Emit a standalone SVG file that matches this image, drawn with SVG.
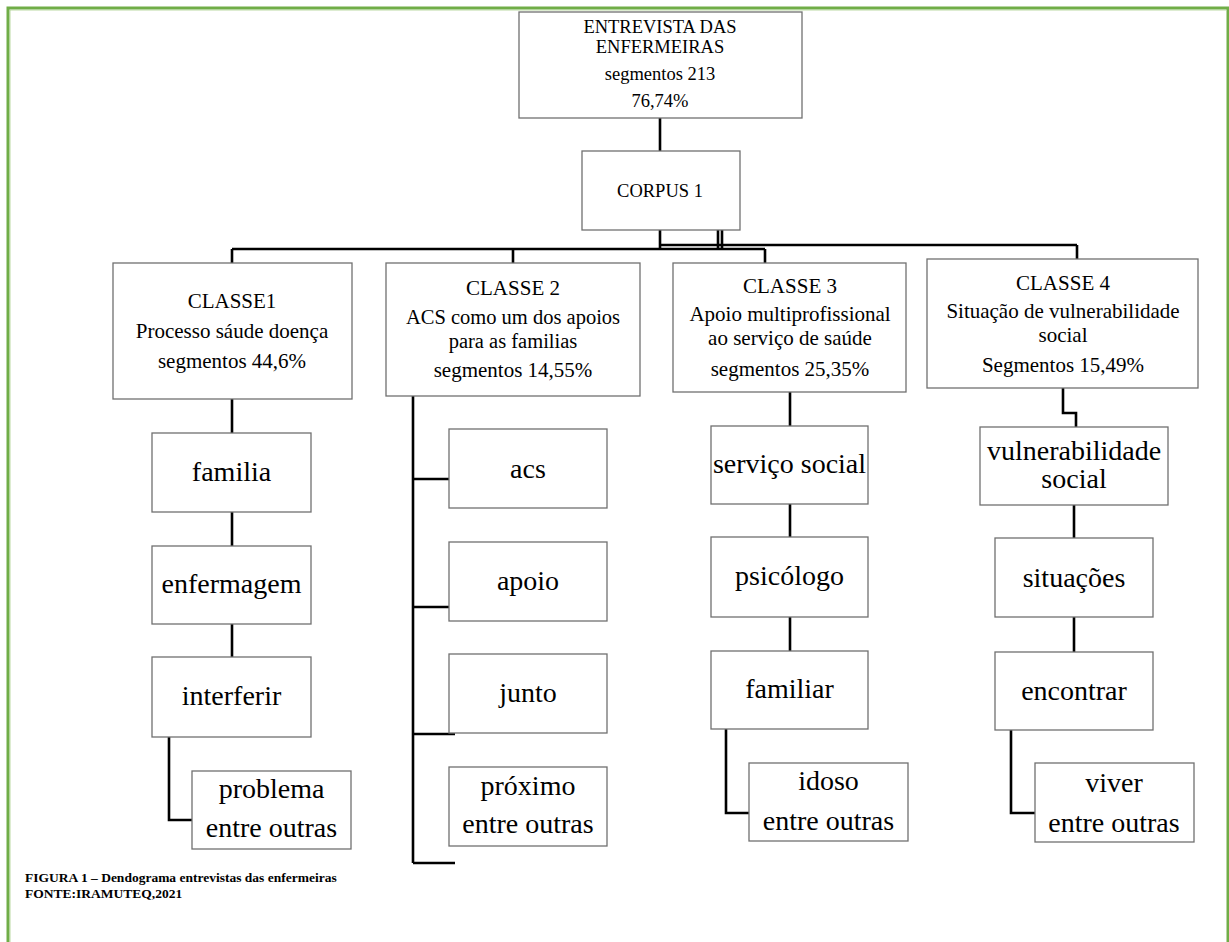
<svg xmlns="http://www.w3.org/2000/svg" width="1229" height="942" viewBox="0 0 1229 942">
<style>
.box{fill:#fff;stroke:#707070;stroke-width:1.3}
.ln{fill:none;stroke:#000;stroke-width:2.6}
text{font-family:"Liberation Serif","Times New Roman",serif;fill:#000;text-anchor:middle}
.t1{font-size:18.5px}
.t2{font-size:21px}
.t2s{font-size:20.5px}
.t3{font-size:28px}
.cap{font-size:13.5px;font-weight:bold;text-anchor:start}
</style>
<rect x="0" y="0" width="1229" height="942" fill="#fff"/>
<path d="M8,942 V8 H1228 V942" fill="none" stroke="#70AD47" stroke-width="3"/>
<path d="M10,942 V10 H1226" fill="none" stroke="#A9D18E" stroke-width="0.8"/>

<g id="connectors">
  <path class="ln" d="M660,118 V151"/>
  <path class="ln" d="M660,230 V249"/>
  <path class="ln" d="M718,230 V249"/>
  <path class="ln" d="M722,230 V249"/>
  <path class="ln" d="M232,249 H765"/>
  <path class="ln" d="M660,245 H1077"/>
  <path class="ln" d="M232,249 V263"/>
  <path class="ln" d="M513,249 V263"/>
  <path class="ln" d="M765,249 V263"/>
  <path class="ln" d="M1077,245 V259"/>
  <path class="ln" d="M232,399 V433"/>
  <path class="ln" d="M232,512 V546"/>
  <path class="ln" d="M232,624 V657"/>
  <path class="ln" d="M169,737 V820 H192"/>
  <path class="ln" d="M413,396 V863"/>
  <path class="ln" d="M413,479 H449"/>
  <path class="ln" d="M413,607 H449"/>
  <path class="ln" d="M413,734 H455"/>
  <path class="ln" d="M413,863 H455"/>
  <path class="ln" d="M790,392 V426"/>
  <path class="ln" d="M790,504 V537"/>
  <path class="ln" d="M790,617 V651"/>
  <path class="ln" d="M726,729 V813 H749"/>
  <path class="ln" d="M1063,388 V413 H1076 V427"/>
  <path class="ln" d="M1074,505 V538"/>
  <path class="ln" d="M1074,617 V652"/>
  <path class="ln" d="M1011,730 V813 H1035"/>
</g>

<g id="entrevista">
  <rect class="box" x="519" y="12" width="283" height="106"/>
  <text class="t1" x="660" y="33">ENTREVISTA DAS</text>
  <text class="t1" x="660" y="53">ENFERMEIRAS</text>
  <text class="t1" x="660" y="80">segmentos 213</text>
  <text class="t1" x="660" y="107">76,74%</text>
</g>
<g id="corpus">
  <rect class="box" x="582" y="151" width="158" height="79"/>
  <text class="t1" x="660" y="197">CORPUS 1</text>
</g>

<g id="classe1">
  <rect class="box" x="113" y="263" width="239" height="136"/>
  <text class="t2" x="232" y="308">CLASSE1</text>
  <text class="t2" x="232" y="338">Processo sáude doença</text>
  <text class="t2" x="232" y="368">segmentos 44,6%</text>
</g>
<g id="classe2">
  <rect class="box" x="386" y="263" width="254" height="133"/>
  <text class="t2" x="513" y="295">CLASSE 2</text>
  <text class="t2s" x="513" y="324">ACS como um dos apoios</text>
  <text class="t2s" x="513" y="348">para as familias</text>
  <text class="t2" x="513" y="377">segmentos 14,55%</text>
</g>
<g id="classe3">
  <rect class="box" x="673" y="263" width="233" height="129"/>
  <text class="t2" x="790" y="293">CLASSE 3</text>
  <text class="t2" x="790" y="321">Apoio multiprofissional</text>
  <text class="t2" x="790" y="345">ao serviço de saúde</text>
  <text class="t2" x="790" y="376">segmentos 25,35%</text>
</g>
<g id="classe4">
  <rect class="box" x="927" y="259" width="271" height="129"/>
  <text class="t2" x="1063" y="290">CLASSE 4</text>
  <text class="t2" x="1063" y="318">Situação de vulnerabilidade</text>
  <text class="t2" x="1063" y="342">social</text>
  <text class="t2" x="1063" y="372">Segmentos 15,49%</text>
</g>

<g id="familia">
  <rect class="box" x="152" y="433" width="159" height="79"/>
  <text class="t3" x="231.5" y="481">familia</text>
</g>
<g id="enfermagem">
  <rect class="box" x="152" y="546" width="159" height="78"/>
  <text class="t3" x="231.5" y="593">enfermagem</text>
</g>
<g id="interferir">
  <rect class="box" x="152" y="657" width="159" height="80"/>
  <text class="t3" x="231.5" y="705">interferir</text>
</g>
<g id="problema">
  <rect class="box" x="192" y="771" width="159" height="78"/>
  <text class="t3" x="271.5" y="798">problema</text>
  <text class="t3" x="271.5" y="837">entre outras</text>
</g>

<g id="acs">
  <rect class="box" x="449" y="429" width="158" height="79"/>
  <text class="t3" x="528" y="478">acs</text>
</g>
<g id="apoio">
  <rect class="box" x="449" y="542" width="158" height="79"/>
  <text class="t3" x="528" y="590">apoio</text>
</g>
<g id="junto">
  <rect class="box" x="449" y="654" width="158" height="79"/>
  <text class="t3" x="528" y="702">junto</text>
</g>
<g id="proximo">
  <rect class="box" x="449" y="767" width="158" height="79"/>
  <text class="t3" x="528" y="795">próximo</text>
  <text class="t3" x="528" y="833">entre outras</text>
</g>

<g id="servico-social">
  <rect class="box" x="711" y="426" width="157" height="78"/>
  <text class="t3" x="789.5" y="473">serviço social</text>
</g>
<g id="psicologo">
  <rect class="box" x="711" y="537" width="157" height="80"/>
  <text class="t3" x="789.5" y="585">psicólogo</text>
</g>
<g id="familiar">
  <rect class="box" x="711" y="651" width="157" height="78"/>
  <text class="t3" x="789.5" y="698">familiar</text>
</g>
<g id="idoso">
  <rect class="box" x="749" y="763" width="159" height="78"/>
  <text class="t3" x="828.5" y="790">idoso</text>
  <text class="t3" x="828.5" y="830">entre outras</text>
</g>

<g id="vulnerabilidade-social">
  <rect class="box" x="980" y="427" width="188" height="78"/>
  <text class="t3" x="1074" y="460">vulnerabilidade</text>
  <text class="t3" x="1074" y="488">social</text>
</g>
<g id="situacoes">
  <rect class="box" x="995" y="538" width="158" height="79"/>
  <text class="t3" x="1074" y="587">situações</text>
</g>
<g id="encontrar">
  <rect class="box" x="995" y="652" width="158" height="78"/>
  <text class="t3" x="1074" y="700">encontrar</text>
</g>
<g id="viver">
  <rect class="box" x="1035" y="763" width="159" height="79"/>
  <text class="t3" x="1114" y="792">viver</text>
  <text class="t3" x="1114" y="832">entre outras</text>
</g>

<g id="caption">
  <text class="cap" x="25" y="882">FIGURA 1 – Dendograma entrevistas das enfermeiras</text>
  <text class="cap" x="25" y="898">FONTE:IRAMUTEQ,2021</text>
</g>
</svg>
